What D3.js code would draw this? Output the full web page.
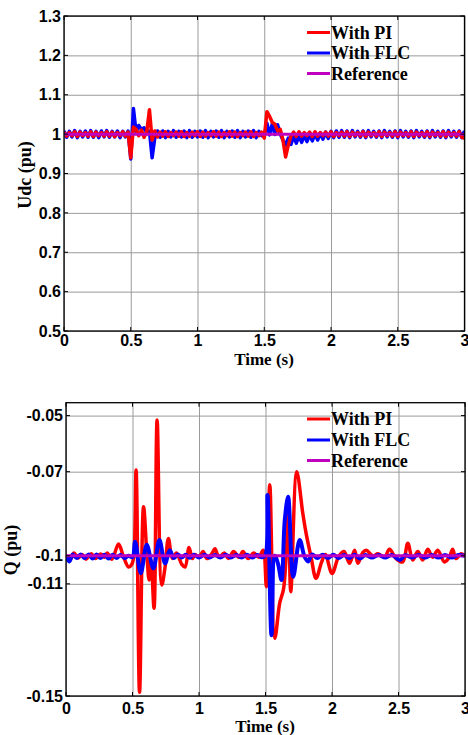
<!DOCTYPE html>
<html><head><meta charset="utf-8">
<script src="https://cdn.jsdelivr.net/npm/d3@7"></script>
<style>body{margin:0;background:#fff}svg{display:block}</style>
</head><body>
<svg id="c" width="468" height="735"></svg>
<script>
// ---------- data ----------
const timeTicks = [0, 0.5, 1, 1.5, 2, 2.5, 3];
const udcTicks = [0.5, 0.6, 0.7, 0.8, 0.9, 1, 1.1, 1.2, 1.3];
const qTicks = [-0.15, -0.11, -0.1, -0.07, -0.05];
const legendLabels = ["With PI", "With FLC", "Reference"];
const udcRef = 1.0;
const qRef = -0.1;
const udcStep = 0.02; // sampling interval (s) of the Udc records

const udcPI = [
 1.005,0.995,1.004,0.996,1.006,0.994,1.005,0.996,1.004,0.995,1.006,0.994,1.005,0.996,1.004,0.995,1.006,0.995,1.005,0.994,1.004,0.996,1.006,0.995,1.005,
 0.940,1.018,1.012,0.996,1.010,0.992,1.006,1.062,0.985,1.008,0.993,
 1.005,0.995,1.006,0.994,1.004,0.996,1.005,0.995,1.006,0.994,
 1.004,0.995,1.005,0.996,1.006,0.994,1.005,0.995,1.004,0.996,
 1.006,0.995,1.005,0.994,1.004,0.996,1.006,0.995,1.005,0.994,
 1.004,0.996,1.005,0.995,1.006,0.994,1.004,0.996,1.005,
 0.990,1.057,1.045,1.030,1.025,1.008,1.012,0.985,0.942,0.972,0.995,
 1.005,0.994,1.006,0.995,1.004,0.996,1.005,0.994,1.006,0.995,
 1.004,0.996,1.005,0.995,1.006,0.994,1.004,0.996,1.005,0.995,
 1.006,0.994,1.005,0.996,1.004,0.995,1.006,0.994,1.005,0.996,
 1.004,0.995,1.006,0.994,1.005,0.996,1.004,0.995,1.006,0.994,
 1.005,0.996,1.004,0.995,1.006,0.994,1.005,0.996,1.004,0.995,
 1.006,0.994,1.005,0.996,1.004,0.995,1.006,0.994,1.005,0.996,
 1.004,0.995,1.006,0.992,0.990
];
const udcFLC = [
 1.008,0.992,1.007,0.993,1.009,0.991,1.007,0.993,1.008,0.992,1.009,0.992,1.007,0.991,1.008,0.993,1.009,0.992,1.007,0.993,1.008,0.991,1.007,0.993,1.008,
 0.937,1.065,1.005,1.022,1.012,1.016,1.004,1.008,0.940,0.990,1.008,
 0.992,1.008,0.991,1.007,0.993,1.009,0.992,1.007,0.993,1.008,
 0.991,1.009,0.992,1.007,0.993,1.008,0.992,1.009,0.991,1.007,
 0.993,1.008,0.992,1.009,0.991,1.007,0.993,1.008,0.992,1.009,
 0.991,1.007,0.993,1.008,0.992,1.009,0.991,1.007,0.996,
 0.995,1.028,0.998,1.026,0.999,1.024,1.000,0.985,0.972,0.990,0.974,
 0.995,0.977,0.996,0.979,0.997,0.981,0.999,0.983,1.001,0.985,
 1.003,0.987,1.005,0.989,1.007,0.991,1.008,0.992,1.009,0.992,
 1.008,0.991,1.009,0.993,1.007,0.992,1.008,0.991,1.009,0.993,
 1.007,0.992,1.008,0.991,1.009,0.993,1.007,0.992,1.008,0.991,
 1.009,0.993,1.007,0.992,1.008,0.991,1.009,0.993,1.007,0.992,
 1.008,0.991,1.009,0.993,1.007,0.992,1.008,0.991,1.009,0.993,
 1.007,0.992,1.008,0.991,1.008
];

// Q records: [time (s), Q (pu)]
const qPI = [
 [0.00,-0.1000],[0.03,-0.1015],[0.06,-0.0990],[0.09,-0.1008],[0.12,-0.0995],[0.15,-0.1012],[0.19,-0.0993],
 [0.22,-0.1010],[0.26,-0.0994],[0.29,-0.1005],[0.31,-0.0990],[0.345,-0.1012],[0.395,-0.0958],[0.43,-0.1000],
 [0.47,-0.1040],[0.495,-0.1030],[0.51,-0.1000],[0.527,-0.0694],[0.553,-0.1487],[0.583,-0.0825],[0.61,-0.1010],
 [0.625,-0.1086],[0.64,-0.1020],[0.662,-0.1187],[0.685,-0.0516],[0.72,-0.1104],[0.745,-0.1040],[0.77,-0.0938],
 [0.80,-0.1010],[0.83,-0.0990],[0.87,-0.1030],[0.895,-0.1040],[0.925,-0.0970],[0.95,-0.1010],[0.97,-0.0995],
 [1.00,-0.1005],[1.03,-0.0985],[1.06,-0.1010],[1.10,-0.0990],[1.12,-0.0975],[1.15,-0.1005],[1.19,-0.0990],
 [1.22,-0.1010],[1.26,-0.0985],[1.30,-0.1005],[1.33,-0.0985],[1.37,-0.1010],[1.41,-0.0990],[1.45,-0.1005],
 [1.482,-0.0980],[1.507,-0.1110],[1.532,-0.0747],[1.570,-0.1294],[1.607,-0.1168],[1.635,-0.1120],[1.655,-0.1000],
 [1.672,-0.0825],[1.690,-0.1128],[1.735,-0.0700],[1.780,-0.0847],[1.805,-0.0919],[1.842,-0.1003],[1.880,-0.1080],
 [1.92,-0.1025],[1.95,-0.0995],[2.00,-0.1063],[2.05,-0.1003],[2.09,-0.0985],[2.132,-0.1027],[2.17,-0.0980],
 [2.195,-0.1027],[2.232,-0.0988],[2.257,-0.0980],[2.307,-0.1000],[2.345,-0.0993],[2.395,-0.1005],[2.432,-0.0977],
 [2.482,-0.1010],[2.532,-0.1022],[2.57,-0.0955],[2.607,-0.1015],[2.645,-0.0985],[2.682,-0.1015],[2.72,-0.0977],
 [2.757,-0.1005],[2.795,-0.0980],[2.845,-0.1022],[2.882,-0.1005],[2.907,-0.0977],[2.932,-0.1010],[2.97,-0.0993],
 [3.00,-0.1000]
];
const qFLC = [
 [0.00,-0.1000],[0.025,-0.1020],[0.05,-0.0995],[0.08,-0.1008],[0.11,-0.0995],[0.14,-0.1008],[0.17,-0.0995],
 [0.20,-0.1010],[0.23,-0.0995],[0.26,-0.1008],[0.29,-0.0996],[0.32,-0.1010],[0.35,-0.0996],[0.38,-0.1008],
 [0.41,-0.0997],[0.44,-0.1008],[0.47,-0.1000],[0.50,-0.1005],[0.52,-0.0950],[0.562,-0.1062],[0.607,-0.0961],
 [0.657,-0.1045],[0.702,-0.0944],[0.745,-0.1027],[0.78,-0.0980],[0.81,-0.1008],[0.84,-0.0995],[0.87,-0.1006],
 [0.90,-0.0996],[0.93,-0.1007],[0.96,-0.0996],[1.00,-0.1006],[1.04,-0.0996],[1.08,-0.1006],[1.12,-0.0997],
 [1.16,-0.1006],[1.20,-0.0996],[1.24,-0.1006],[1.28,-0.0997],[1.32,-0.1006],[1.36,-0.0996],[1.40,-0.1006],
 [1.44,-0.0997],[1.47,-0.1005],[1.497,-0.1000],[1.515,-0.0783],[1.545,-0.1283],[1.57,-0.1000],[1.595,-0.1030],
 [1.62,-0.1086],[1.645,-0.0872],[1.67,-0.0789],[1.708,-0.1075],[1.757,-0.0944],[1.795,-0.1005],[1.82,-0.1020],
 [1.85,-0.0995],[1.89,-0.1008],[1.93,-0.0996],[1.97,-0.1008],[2.01,-0.0996],[2.05,-0.1008],[2.09,-0.0997],
 [2.13,-0.1008],[2.17,-0.0996],[2.21,-0.1010],[2.25,-0.0997],[2.30,-0.1006],[2.35,-0.0997],[2.40,-0.1006],
 [2.45,-0.0997],[2.51,-0.1015],[2.55,-0.0998],[2.60,-0.1006],[2.65,-0.0997],[2.70,-0.1006],[2.75,-0.0997],
 [2.80,-0.1006],[2.85,-0.0997],[2.90,-0.1006],[2.95,-0.0997],[3.00,-0.1000]
];

// ---------- drawing ----------
const svg = d3.select("#c");
const RED = "#ff0000", BLUE = "#0000ff", MAG = "#bf00bf";
const sansBold = "'Liberation Sans', Arial, sans-serif";
const serifBold = "'Liberation Serif', 'Times New Roman', serif";

function panel(cfg) {
  const x = d3.scaleLinear().domain([0, 3]).range([cfg.left, cfg.right]);
  const y = d3.scaleLinear().domain(cfg.yDomain).range([cfg.bottom, cfg.top]);
  const g = svg.append("g");
  const w = cfg.right - cfg.left, h = cfg.bottom - cfg.top;

  // grid
  g.append("g").attr("transform", `translate(0,${cfg.bottom})`)
    .call(d3.axisBottom(x).tickValues(timeTicks).tickSize(-h).tickFormat(""))
    .call(a => { a.select(".domain").remove(); a.selectAll("line").attr("stroke", "#9a9a9a").attr("stroke-width", 1); });
  g.append("g").attr("transform", `translate(${cfg.left},0)`)
    .call(d3.axisLeft(y).tickValues(cfg.yTicks).tickSize(-w).tickFormat(""))
    .call(a => { a.select(".domain").remove(); a.selectAll("line").attr("stroke", "#9a9a9a").attr("stroke-width", 1); });

  // clip
  const cid = "clip" + cfg.id;
  svg.append("clipPath").attr("id", cid).append("rect")
    .attr("x", cfg.left).attr("y", cfg.top).attr("width", w).attr("height", h);
  const lg = g.append("g").attr("clip-path", `url(#${cid})`);

  const line = d3.line().x(d => x(d[0])).y(d => y(d[1])).curve(cfg.curve);
  cfg.series.forEach(s => {
    lg.append("path").datum(s.data).attr("fill", "none").attr("stroke", s.color)
      .attr("stroke-width", s.width).attr("stroke-linejoin", "round").attr("d", line);
  });
  lg.append("path").datum([[0, cfg.ref], [3, cfg.ref]]).attr("fill", "none")
    .attr("stroke", MAG).attr("stroke-width", 3).attr("d", d3.line().x(d => x(d[0])).y(d => y(d[1])));

  // inner ticks on all four sides
  const tk = 4;
  timeTicks.forEach(t => {
    g.append("line").attr("x1", x(t)).attr("x2", x(t)).attr("y1", cfg.bottom).attr("y2", cfg.bottom - tk).attr("stroke", "#000");
    g.append("line").attr("x1", x(t)).attr("x2", x(t)).attr("y1", cfg.top).attr("y2", cfg.top + tk).attr("stroke", "#000");
  });
  cfg.yTicks.forEach(v => {
    g.append("line").attr("x1", cfg.left).attr("x2", cfg.left + tk).attr("y1", y(v)).attr("y2", y(v)).attr("stroke", "#000");
    g.append("line").attr("x1", cfg.right).attr("x2", cfg.right - tk).attr("y1", y(v)).attr("y2", y(v)).attr("stroke", "#000");
  });

  // frame
  g.append("rect").attr("x", cfg.left).attr("y", cfg.top).attr("width", w).attr("height", h)
    .attr("fill", "none").attr("stroke", "#000").attr("stroke-width", 1.3);

  // tick labels
  const xa = g.append("g").attr("transform", `translate(0,${cfg.bottom})`)
    .call(d3.axisBottom(x).tickValues(timeTicks).tickSize(0).tickPadding(cfg.xPad).tickFormat(d => String(d)));
  xa.select(".domain").remove();
  xa.selectAll("text").attr("font-family", sansBold).attr("font-weight", "bold").attr("font-size", 16).attr("fill", "#000");
  const ya = g.append("g").attr("transform", `translate(${cfg.left},0)`)
    .call(d3.axisLeft(y).tickValues(cfg.yTicks).tickSize(0).tickPadding(3).tickFormat(d => String(d)));
  ya.select(".domain").remove();
  ya.selectAll("text").attr("font-family", sansBold).attr("font-weight", "bold").attr("font-size", 16).attr("fill", "#000");

  // axis titles
  g.append("text").attr("x", cfg.xTitle[0]).attr("y", cfg.xTitle[1]).attr("text-anchor", "middle")
    .attr("dominant-baseline", "central").attr("font-family", serifBold).attr("font-weight", "bold")
    .attr("font-size", 17).text("Time (s)");
  g.append("text").attr("transform", `translate(${cfg.yTitle[0]},${cfg.yTitle[1]}) rotate(-90)`)
    .attr("text-anchor", "middle").attr("dominant-baseline", "central").attr("font-family", serifBold)
    .attr("font-weight", "bold").attr("font-size", 18).text(cfg.yLabel);

  // legend
  const colors = [RED, BLUE, MAG];
  legendLabels.forEach((lab, i) => {
    const yy = cfg.legY[i];
    g.append("line").attr("x1", cfg.legX).attr("x2", cfg.legX + 23).attr("y1", yy).attr("y2", yy)
      .attr("stroke", colors[i]).attr("stroke-width", 3);
    g.append("text").attr("x", cfg.legX + 24).attr("y", yy).attr("dominant-baseline", "central")
      .attr("font-family", serifBold).attr("font-weight", "bold").attr("font-size", 18).text(lab);
  });
}

panel({
  id: "top", left: 64, right: 464.5, top: 16, bottom: 331,
  yDomain: [0.5, 1.3], yTicks: udcTicks, ref: udcRef, curve: d3.curveLinear,
  series: [
    { data: udcFLC.map((v, i) => [i * udcStep, v]), color: BLUE, width: 3.5 },
    { data: udcPI.map((v, i) => [i * udcStep, v]), color: RED, width: 3.5 }
  ],
  xPad: 4, xTitle: [264, 359.5], yTitle: [25, 175], yLabel: "Udc (pu)",
  legX: 307, legY: [32.5, 53, 73.5]
});

panel({
  id: "bot", left: 66, right: 465, top: 402.7, bottom: 696,
  yDomain: [-0.15, -0.0454], yTicks: qTicks, ref: qRef, curve: d3.curveCatmullRom.alpha(0.5),
  series: [
    { data: qPI, color: RED, width: 3.5 },
    { data: qFLC, color: BLUE, width: 4 }
  ],
  xPad: 7, xTitle: [265, 726], yTitle: [11, 550], yLabel: "Q (pu)",
  legX: 307, legY: [419, 440, 460.5]
});
</script>
</body></html>
